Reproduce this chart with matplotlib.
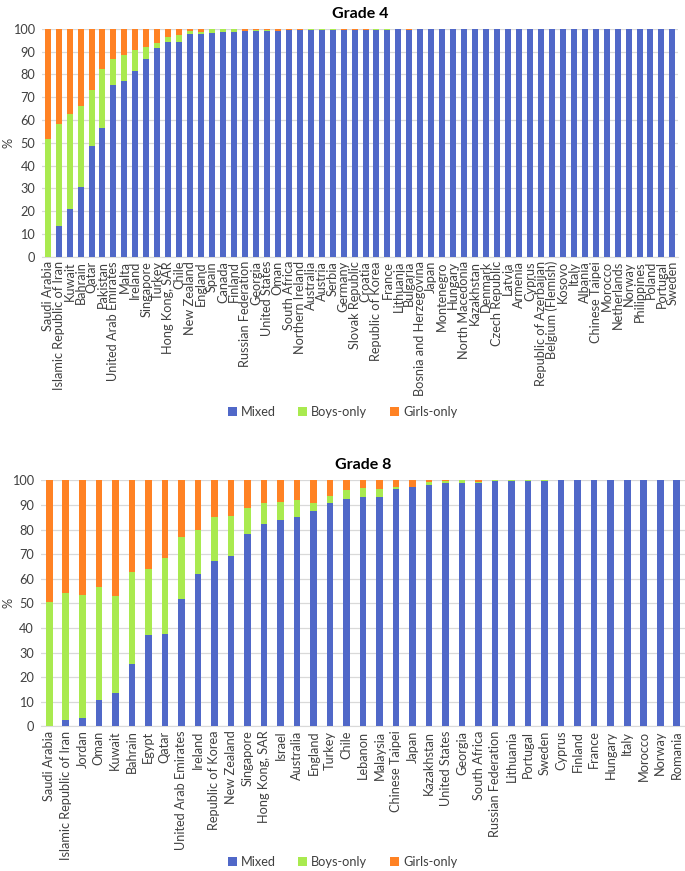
import matplotlib
matplotlib.use("Agg")
import matplotlib.pyplot as plt
import numpy as np

plt.rcParams["font.family"] = ["Lato", "DejaVu Sans"]

# ---------------- data ----------------
g4_countries = [
    "Saudi Arabia", "Islamic Republic of Iran", "Kuwait", "Bahrain", "Qatar", "Pakistan",
    "United Arab Emirates", "Malta", "Ireland", "Singapore", "Turkey", "Hong Kong, SAR",
    "Chile", "New Zealand", "England", "Spain", "Canada", "Finland", "Russian Federation",
    "Georgia", "United States", "Oman", "South Africa", "Northern Ireland", "Australia",
    "Austria", "Serbia", "Germany", "Slovak Republic", "Croatia", "Republic of Korea",
    "France", "Lithuania", "Bulgaria", "Bosnia and Herzegovina", "Japan", "Montenegro",
    "Hungary", "North Macedonia", "Kazakhstan", "Denmark", "Czech Republic", "Latvia",
    "Armenia", "Cyprus", "Republic of Azerbaijan", "Belgium (Flemish)", "Kosovo", "Italy",
    "Albania", "Chinese Taipei", "Morocco", "Netherlands", "Norway", "Philippines",
    "Poland", "Portugal", "Sweden",
]
g4_mixed = [
    0.0, 13.6, 21.1, 30.6, 48.8, 56.7, 75.4, 76.9, 81.6, 86.7, 91.7, 94.4,
    94.4, 97.5, 97.8, 98.2, 98.5, 98.7, 98.8, 98.8, 99.0, 99.1, 99.3, 99.4,
    99.4, 99.4, 99.6, 99.5, 99.5, 99.6, 99.6, 99.6, 99.8, 99.6, 99.7, 99.8,
    99.8, 99.8, 99.8, 99.8, 99.8, 99.9, 99.8, 99.8, 99.8, 99.8, 99.9, 99.9,
    99.9, 100.0, 100.0, 100.0, 100.0, 100.0, 100.0, 100.0, 100.0, 100.0,
]
g4_boys = [
    51.8, 44.6, 41.6, 35.5, 24.2, 25.8, 11.4, 11.7, 9.0, 5.1, 2.2, 2.2,
    2.8, 1.6, 0.9, 1.8, 1.5, 1.3, 0.0, 0.6, 0.6, 0.0, 0.0, 0.0,
    0.3, 0.6, 0.4, 0.0, 0.0, 0.0, 0.2, 0.4, 0.1, 0.0, 0.0, 0.2,
    0.2, 0.2, 0.2, 0.2, 0.2, 0.0, 0.0, 0.2, 0.0, 0.0, 0.0, 0.0,
    0.1, 0.0, 0.0, 0.0, 0.0, 0.0, 0.0, 0.0, 0.0, 0.0,
]
g4_girls = [
    48.2, 41.8, 37.3, 33.9, 27.0, 17.5, 13.2, 11.4, 9.4, 8.2, 6.1, 3.4,
    2.8, 0.9, 1.3, 0.0, 0.0, 0.0, 1.2, 0.6, 0.4, 0.9, 0.7, 0.6,
    0.3, 0.0, 0.0, 0.5, 0.5, 0.4, 0.2, 0.0, 0.1, 0.4, 0.3, 0.0,
    0.0, 0.0, 0.0, 0.0, 0.0, 0.1, 0.2, 0.0, 0.2, 0.2, 0.1, 0.1,
    0.0, 0.0, 0.0, 0.0, 0.0, 0.0, 0.0, 0.0, 0.0, 0.0,
]

g8_countries = [
    "Saudi Arabia", "Islamic Republic of Iran", "Jordan", "Oman", "Kuwait", "Bahrain",
    "Egypt", "Qatar", "United Arab Emirates", "Ireland", "Republic of Korea",
    "New Zealand", "Singapore", "Hong Kong, SAR", "Israel", "Australia", "England",
    "Turkey", "Chile", "Lebanon", "Malaysia", "Chinese Taipei", "Japan", "Kazakhstan",
    "United States", "Georgia", "South Africa", "Russian Federation", "Lithuania",
    "Portugal", "Sweden", "Cyprus", "Finland", "France", "Hungary", "Italy", "Morocco",
    "Norway", "Romania",
]
g8_mixed = [
    0.0, 2.8, 3.5, 10.7, 13.5, 25.4, 37.2, 37.6, 51.9, 61.8, 67.3, 69.3, 78.4,
    82.1, 84.0, 85.2, 87.6, 90.6, 92.6, 93.1, 93.4, 96.6, 97.2, 98.0, 98.8, 99.1,
    98.9, 99.6, 99.6, 99.6, 99.8, 100.0, 100.0, 100.0, 100.0, 100.0, 100.0, 100.0, 100.0,
]
g8_boys = [
    50.6, 51.5, 49.9, 46.0, 39.6, 37.5, 26.6, 30.9, 25.2, 18.2, 17.9, 16.3, 10.3,
    8.5, 7.4, 6.9, 3.3, 3.2, 3.3, 3.7, 3.0, 0.8, 0.0, 1.5, 0.8, 0.9,
    0.3, 0.4, 0.4, 0.4, 0.2, 0.0, 0.0, 0.0, 0.0, 0.0, 0.0, 0.0, 0.0,
]
g8_girls = [
    49.4, 45.7, 46.6, 43.3, 46.9, 37.1, 36.2, 31.5, 22.9, 20.0, 14.8, 14.4, 11.3,
    9.4, 8.6, 7.9, 9.1, 6.2, 4.1, 3.2, 3.6, 2.6, 2.8, 0.5, 0.4, 0.0,
    0.8, 0.0, 0.0, 0.0, 0.0, 0.0, 0.0, 0.0, 0.0, 0.0, 0.0, 0.0, 0.0,
]

C_MIXED = "#5068C8"
C_BOYS = "#A9EA4F"
C_GIRLS = "#FF8224"
GRID = "#D9D9D9"
TXT = "#404040"
FS = 9.2


def stacked_panel(ax, labels, mixed, boys, girls, width, title):
    x = np.arange(len(labels))
    mixed = np.array(mixed); boys = np.array(boys); girls = np.array(girls)
    ax.bar(x, mixed, width, color=C_MIXED, label="Mixed", zorder=3)
    ax.bar(x, boys, width, bottom=mixed, color=C_BOYS, label="Boys-only", zorder=3)
    ax.bar(x, girls, width, bottom=mixed + boys, color=C_GIRLS, label="Girls-only", zorder=3)
    ax.set_xlim(-0.5, len(labels) - 0.5)
    ax.set_ylim(0, 100)
    ax.set_yticks(range(0, 101, 10))
    ax.yaxis.grid(True, color=GRID, lw=0.9, zorder=0)
    ax.set_axisbelow(True)
    for s in ("top", "right", "left"):
        ax.spines[s].set_visible(False)
    ax.spines["bottom"].set_color(GRID)
    ax.set_xticks(x)
    ax.set_xticklabels(labels, rotation=90, fontsize=FS, color=TXT)
    ax.tick_params(axis="y", labelsize=FS, labelcolor=TXT, length=0, pad=5)
    ax.tick_params(axis="x", length=0, pad=3)
    ax.set_ylabel("%", fontsize=FS, color=TXT)
    ax.set_title(title, fontsize=11.5, fontweight="bold", color="black", pad=8)


fig = plt.figure(figsize=(6.85, 8.71), dpi=100)
ax4 = fig.add_axes([0.0616, 0.705, 0.928, 0.262])
ax8 = fig.add_axes([0.0599, 0.166, 0.9401, 0.2825])

stacked_panel(ax4, g4_countries, g4_mixed, g4_boys, g4_girls, 0.55, "Grade 4")
stacked_panel(ax8, g8_countries, g8_mixed, g8_boys, g8_girls, 0.4, "Grade 8")
ax4.yaxis.set_label_coords(-0.043, 0.5)
ax8.yaxis.set_label_coords(-0.041, 0.5)

for ax, ypos in ((ax4, 0.527), (ax8, 0.0103)):
    h, l = ax.get_legend_handles_labels()
    fig.legend(h, l, loc="center", bbox_to_anchor=(0.5, ypos), ncol=3, frameon=False,
               fontsize=FS, handlelength=0.7, handleheight=0.7, handletextpad=0.3,
               columnspacing=1.8, labelcolor=TXT)

fig.savefig("out.png", dpi=100)
